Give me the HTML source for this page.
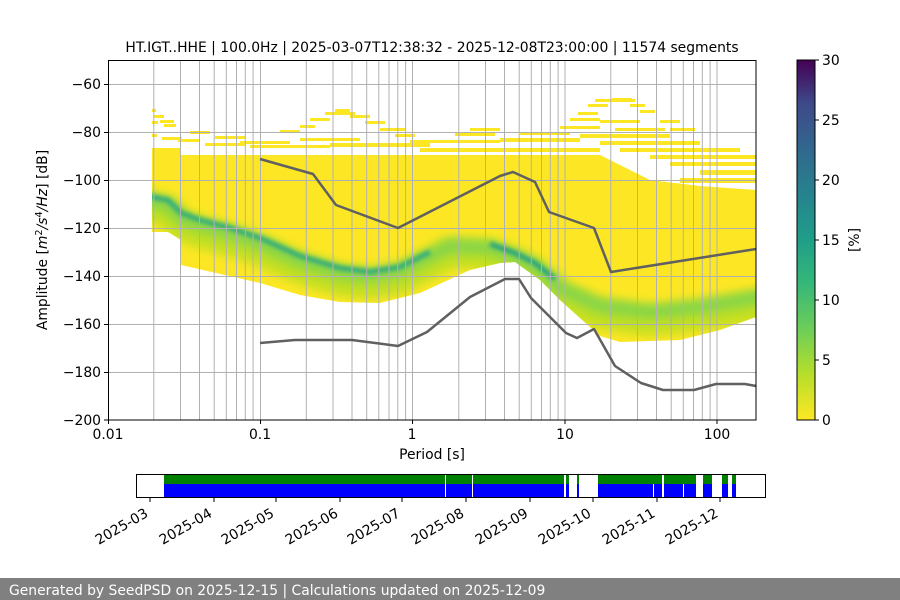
<!DOCTYPE html>
<html><head><meta charset="utf-8"><style>
html,body{margin:0;padding:0;background:#fff;}
svg{display:block;font-family:"DejaVu Sans","Liberation Sans",sans-serif;}
</style></head><body>
<svg width="900" height="600" viewBox="0 0 900 600" xmlns="http://www.w3.org/2000/svg">
<defs>
<clipPath id="env"><polygon points="152,148 181,148 181,155 600,155 620,165 650,180 700,186 756,190 756,317 720,330 680,340 620,342 600,336 560,300 540,280 515,262 500,263 470,270 420,293 380,303 340,302 300,295 260,283 181,265 181,240 168,232 152,232"/></clipPath>
<filter id="bl" x="-10%" y="-50%" width="120%" height="200%"><feGaussianBlur stdDeviation="5"/></filter>
<filter id="bl2" x="-10%" y="-50%" width="120%" height="200%"><feGaussianBlur stdDeviation="2"/></filter>
<linearGradient id="vir" x1="0" y1="1" x2="0" y2="0">
<stop offset="0" stop-color="#fde725"/><stop offset="0.13" stop-color="#b5de2b"/><stop offset="0.25" stop-color="#6ece58"/><stop offset="0.38" stop-color="#35b779"/><stop offset="0.5" stop-color="#1f9e89"/><stop offset="0.63" stop-color="#26828e"/><stop offset="0.75" stop-color="#31688e"/><stop offset="0.88" stop-color="#3e4989"/><stop offset="1" stop-color="#440154"/>
</linearGradient>
</defs>
<text x="432" y="52" font-size="13.9" text-anchor="middle">HT.IGT..HHE | 100.0Hz | 2025-03-07T12:38:32 - 2025-12-08T23:00:00 | 11574 segments</text>
<g fill="#fde725">
<rect x="152" y="109" width="4" height="3"/><rect x="152" y="121" width="6" height="3"/><rect x="154" y="115" width="10" height="3"/><rect x="160" y="120" width="14" height="3"/><rect x="164" y="124" width="12" height="3"/><rect x="152" y="134" width="5" height="3"/><rect x="162" y="137" width="20" height="3"/><rect x="178" y="139" width="22" height="3"/><rect x="190" y="131" width="20" height="3"/><rect x="205" y="143" width="40" height="3"/><rect x="215" y="136" width="30" height="3"/><rect x="240" y="141" width="50" height="3"/><rect x="250" y="145" width="80" height="3"/>
<rect x="280" y="130" width="20" height="3"/><rect x="300" y="125" width="15" height="3"/><rect x="310" y="118" width="20" height="3"/><rect x="325" y="112" width="30" height="3"/><rect x="335" y="109" width="15" height="3"/><rect x="350" y="115" width="20" height="3"/><rect x="365" y="121" width="20" height="3"/><rect x="380" y="128" width="25" height="3"/><rect x="395" y="134" width="20" height="3"/><rect x="300" y="138" width="60" height="3"/><rect x="330" y="143" width="100" height="4"/><rect x="410" y="140" width="40" height="3"/><rect x="420" y="148" width="180" height="4"/><rect x="440" y="140" width="60" height="3"/><rect x="455" y="133" width="40" height="3"/><rect x="470" y="128" width="30" height="3"/>
<rect x="500" y="138" width="80" height="4"/><rect x="520" y="132" width="50" height="3"/><rect x="560" y="126" width="40" height="3"/><rect x="570" y="118" width="30" height="3"/><rect x="578" y="112" width="20" height="3"/><rect x="588" y="104" width="20" height="3"/><rect x="595" y="99" width="40" height="3"/><rect x="612" y="98" width="20" height="3"/><rect x="630" y="104" width="15" height="3"/><rect x="640" y="110" width="15" height="3"/><rect x="600" y="120" width="40" height="3"/><rect x="615" y="128" width="50" height="3"/><rect x="580" y="134" width="90" height="4"/><rect x="600" y="141" width="100" height="4"/><rect x="620" y="148" width="120" height="4"/><rect x="650" y="155" width="106" height="4"/><rect x="670" y="162" width="86" height="4"/><rect x="700" y="170" width="56" height="5"/><rect x="680" y="178" width="76" height="5"/><rect x="660" y="120" width="20" height="3"/><rect x="670" y="128" width="25" height="3"/>
</g>
<g clip-path="url(#env)">
<rect x="150" y="140" width="610" height="210" fill="#fde725"/>
<polyline filter="url(#bl)" fill="none" stroke="#c2df23" stroke-width="30" points="140,205 168,212 181,226 200,233 230,241 260,251 300,269 340,281 370,284 400,279 430,264 450,253 490,255 515,264 535,275 560,297 600,314 650,321 700,316 770,304"/>
<polyline filter="url(#bl)" fill="none" stroke="#86d549" stroke-width="14" points="140,198 168,205 181,218 200,225 230,233 260,243 300,261 340,273 370,276 400,271 430,256 450,246 490,248 515,257 535,266 560,288 600,306 650,312 700,307 770,295"/>
<polyline filter="url(#bl2)" fill="none" stroke="#2eab80" stroke-width="5" points="140,195 168,200 181,213 200,220 230,228 260,238 300,256 340,268 370,272 400,267 430,252"/>
<polyline filter="url(#bl2)" fill="none" stroke="#23a286" stroke-width="5" points="490,244 515,253 535,263 555,279"/>
</g>
<g stroke="#b0b0b0" stroke-width="1">
<line x1="108" x2="756" y1="84.5" y2="84.5"/><line x1="108" x2="756" y1="132.5" y2="132.5"/><line x1="108" x2="756" y1="180.5" y2="180.5"/><line x1="108" x2="756" y1="228.5" y2="228.5"/><line x1="108" x2="756" y1="276.5" y2="276.5"/><line x1="108" x2="756" y1="324.5" y2="324.5"/><line x1="108" x2="756" y1="372.5" y2="372.5"/>
<line x1="153.8" x2="153.8" y1="60" y2="420"/><line x1="180.5" x2="180.5" y1="60" y2="420"/><line x1="199.5" x2="199.5" y1="60" y2="420"/><line x1="214.2" x2="214.2" y1="60" y2="420"/><line x1="226.3" x2="226.3" y1="60" y2="420"/><line x1="236.5" x2="236.5" y1="60" y2="420"/><line x1="245.3" x2="245.3" y1="60" y2="420"/><line x1="253.1" x2="253.1" y1="60" y2="420"/><line x1="260.5" x2="260.5" y1="60" y2="420"/>
<line x1="306.3" x2="306.3" y1="60" y2="420"/><line x1="333" x2="333" y1="60" y2="420"/><line x1="352" x2="352" y1="60" y2="420"/><line x1="366.7" x2="366.7" y1="60" y2="420"/><line x1="378.8" x2="378.8" y1="60" y2="420"/><line x1="389" x2="389" y1="60" y2="420"/><line x1="397.8" x2="397.8" y1="60" y2="420"/><line x1="405.6" x2="405.6" y1="60" y2="420"/><line x1="412.5" x2="412.5" y1="60" y2="420"/>
<line x1="458.8" x2="458.8" y1="60" y2="420"/><line x1="485.5" x2="485.5" y1="60" y2="420"/><line x1="504.5" x2="504.5" y1="60" y2="420"/><line x1="519.2" x2="519.2" y1="60" y2="420"/><line x1="531.3" x2="531.3" y1="60" y2="420"/><line x1="541.5" x2="541.5" y1="60" y2="420"/><line x1="550.3" x2="550.3" y1="60" y2="420"/><line x1="558.1" x2="558.1" y1="60" y2="420"/><line x1="565" x2="565" y1="60" y2="420"/>
<line x1="610.8" x2="610.8" y1="60" y2="420"/><line x1="637.5" x2="637.5" y1="60" y2="420"/><line x1="656.5" x2="656.5" y1="60" y2="420"/><line x1="671.2" x2="671.2" y1="60" y2="420"/><line x1="683.3" x2="683.3" y1="60" y2="420"/><line x1="693.5" x2="693.5" y1="60" y2="420"/><line x1="702.3" x2="702.3" y1="60" y2="420"/><line x1="710.1" x2="710.1" y1="60" y2="420"/><line x1="717" x2="717" y1="60" y2="420"/>
</g>
<g fill="none" stroke="#606060" stroke-width="2.5" stroke-linejoin="round">
<polyline points="260,159 313,174 336,205 398,228 500,176 513,172 535,182 549,212 594,228 611,272 756,249"/>
<polyline points="260,343 295,340 352,340 398,346 427,332 470,297 505,279 519,279 531,298 566,333 577,338 594,329 615,366 641,383 663,390 694,390 716,384 745,384 756,386"/>
</g>
<rect x="108.5" y="60.5" width="647.5" height="359.5" fill="none" stroke="#000" stroke-width="1"/>
<g stroke="#000"><line x1="104" x2="108" y1="84.5" y2="84.5"/><line x1="104" x2="108" y1="132.5" y2="132.5"/><line x1="104" x2="108" y1="180.5" y2="180.5"/><line x1="104" x2="108" y1="228.5" y2="228.5"/><line x1="104" x2="108" y1="276.5" y2="276.5"/><line x1="104" x2="108" y1="324.5" y2="324.5"/><line x1="104" x2="108" y1="372.5" y2="372.5"/><line x1="104" x2="108" y1="420" y2="420"/>
<line x1="108.5" x2="108.5" y1="420" y2="424"/><line x1="260.5" x2="260.5" y1="420" y2="424"/><line x1="412.5" x2="412.5" y1="420" y2="424"/><line x1="565" x2="565" y1="420" y2="424"/><line x1="717" x2="717" y1="420" y2="424"/></g>
<g font-size="13.9" text-anchor="end"><text x="101" y="89">−60</text><text x="101" y="137">−80</text><text x="101" y="185">−100</text><text x="101" y="233">−120</text><text x="101" y="281">−140</text><text x="101" y="329">−160</text><text x="101" y="377">−180</text><text x="101" y="425">−200</text></g>
<g font-size="13.9" text-anchor="middle"><text x="108" y="439">0.01</text><text x="260" y="439">0.1</text><text x="412" y="439">1</text><text x="565" y="439">10</text><text x="717" y="439">100</text><text x="432" y="459">Period [s]</text></g>
<text transform="translate(47,240) rotate(-90)" font-size="13.9" text-anchor="middle">Amplitude [<tspan font-style="italic">m</tspan><tspan font-size="9.7" dy="-5">2</tspan><tspan dy="5" font-style="italic">/s</tspan><tspan font-size="9.7" dy="-5">4</tspan><tspan dy="5" font-style="italic">/Hz</tspan>] [dB]</text>
<rect x="797" y="60" width="18" height="360" fill="url(#vir)" stroke="#000" stroke-width="1"/>
<g stroke="#000"><line x1="815" x2="819" y1="60" y2="60"/><line x1="815" x2="819" y1="120" y2="120"/><line x1="815" x2="819" y1="180" y2="180"/><line x1="815" x2="819" y1="240" y2="240"/><line x1="815" x2="819" y1="300" y2="300"/><line x1="815" x2="819" y1="360" y2="360"/><line x1="815" x2="819" y1="420" y2="420"/></g>
<g font-size="13.9"><text x="822" y="65">30</text><text x="822" y="125">25</text><text x="822" y="185">20</text><text x="822" y="245">15</text><text x="822" y="305">10</text><text x="822" y="365">5</text><text x="822" y="425">0</text></g>
<text transform="translate(859,240) rotate(-90)" font-size="13.9" text-anchor="middle">[%]</text>
<g>
<rect x="164" y="474" width="400" height="10" fill="#008000"/><rect x="164" y="484" width="400" height="13" fill="#0000ff"/>
<rect x="566" y="474" width="3" height="10" fill="#008000"/><rect x="566" y="484" width="3" height="13" fill="#0000ff"/>
<rect x="577" y="474" width="2" height="10" fill="#008000"/><rect x="577" y="484" width="2" height="13" fill="#0000ff"/>
<rect x="598" y="474" width="64" height="10" fill="#008000"/><rect x="598" y="484" width="64" height="13" fill="#0000ff"/>
<rect x="664" y="474" width="32" height="10" fill="#008000"/><rect x="664" y="484" width="32" height="13" fill="#0000ff"/>
<rect x="703" y="474" width="9" height="10" fill="#008000"/><rect x="703" y="484" width="9" height="13" fill="#0000ff"/>
<rect x="722" y="474" width="6" height="10" fill="#008000"/><rect x="722" y="484" width="6" height="13" fill="#0000ff"/>
<rect x="732" y="474" width="4" height="10" fill="#008000"/><rect x="732" y="484" width="4" height="13" fill="#0000ff"/>
<rect x="445" y="474" width="1" height="23" fill="#fff"/><rect x="472" y="474" width="1" height="23" fill="#fff"/><rect x="653" y="484" width="1" height="13" fill="#fff"/><rect x="683" y="484" width="1" height="13" fill="#fff"/>
<rect x="136.5" y="474.5" width="629" height="23" fill="none" stroke="#000" stroke-width="1"/>
<g stroke="#000"><line x1="150" x2="150" y1="498" y2="502"/><line x1="214" x2="214" y1="498" y2="502"/><line x1="276" x2="276" y1="498" y2="502"/><line x1="340" x2="340" y1="498" y2="502"/><line x1="402" x2="402" y1="498" y2="502"/><line x1="466" x2="466" y1="498" y2="502"/><line x1="530" x2="530" y1="498" y2="502"/><line x1="593" x2="593" y1="498" y2="502"/><line x1="657" x2="657" y1="498" y2="502"/><line x1="720" x2="720" y1="498" y2="502"/></g>
<g font-size="13.9" text-anchor="end">
<text transform="translate(149,516) rotate(-30)">2025-03</text><text transform="translate(213,516) rotate(-30)">2025-04</text><text transform="translate(275,516) rotate(-30)">2025-05</text><text transform="translate(339,516) rotate(-30)">2025-06</text><text transform="translate(401,516) rotate(-30)">2025-07</text><text transform="translate(465,516) rotate(-30)">2025-08</text><text transform="translate(529,516) rotate(-30)">2025-09</text><text transform="translate(592,516) rotate(-30)">2025-10</text><text transform="translate(656,516) rotate(-30)">2025-11</text><text transform="translate(719,516) rotate(-30)">2025-12</text>
</g>
</g>
<rect x="0" y="578" width="900" height="22" fill="#808080"/>
<text x="9" y="595" font-size="13.9" fill="#fff">Generated by SeedPSD on 2025-12-15 | Calculations updated on 2025-12-09</text>
</svg>
</body></html>
